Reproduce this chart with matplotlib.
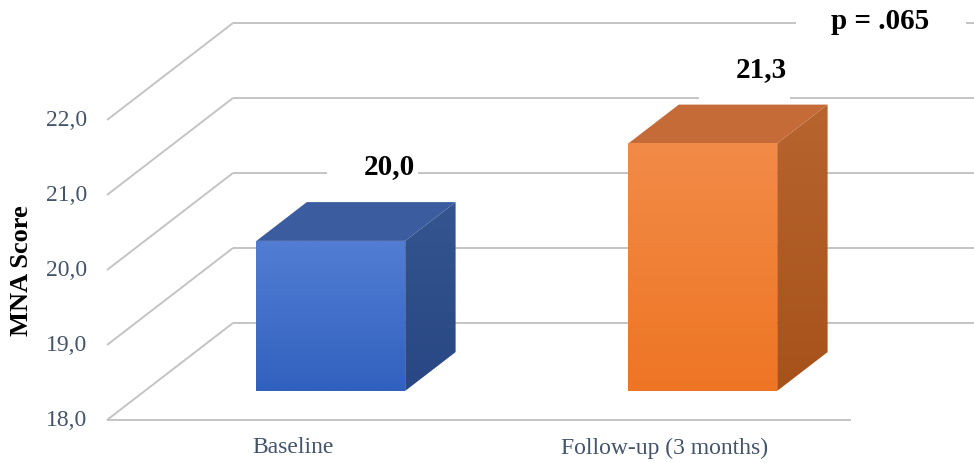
import numpy as np
import matplotlib
matplotlib.use('Agg')
import matplotlib.pyplot as plt
import matplotlib.colors as mcolors
from matplotlib.patches import Polygon, Rectangle

# ---- data ----
categories = ["Baseline", "Follow-up (3 months)"]
values = [20.0, 21.3]
value_labels = ["20,0", "21,3"]
y_ticks = [18.0, 19.0, 20.0, 21.0, 22.0]
y_tick_labels = ["18,0", "19,0", "20,0", "21,0", "22,0"]
p_label = "p = .065"
axis_title = "MNA Score"

# ---- styles ----
FONT = "Liberation Serif"
TXT_COL = "#44546A"
GRID_COL = "#C4C4C4"
front_cols = [("#527DD3", "#3161BF"), ("#F28B47", "#EE7524")]
top_cols = ["#3B5C9E", "#C56B37"]
side_cols = [("#34558F", "#284784"), ("#B8642F", "#A7521A")]

W, H = 974, 464
fig = plt.figure(figsize=(W / 100, H / 100), dpi=100)
ax = fig.add_axes([0, 0, 1, 1])
XL = (-293 / 372, (974 - 293) / 372)
YL = (18 - (464 - 421) / 75, 18 + 421 / 75)

ymin = y_ticks[0]
DX, DY = 0.3387, 1.2933      # full depth offset (data units)
f0, f1 = 0.3, 0.7            # bar depth fractions
bw = 0.4
x_left, x_right = -0.5, len(categories) - 0.5

# back wall gridlines
for t in y_ticks:
    ax.plot([x_left + DX, x_right + DX + 0.05], [t + DY, t + DY],
            color=GRID_COL, lw=1.4, zorder=1, solid_capstyle='butt')
    # left wall diagonals
    ax.plot([x_left, x_left + DX], [t, t + DY], color=GRID_COL, lw=1.4,
            zorder=1, solid_capstyle='butt')
# floor front edge
ax.plot([x_left, x_right], [ymin, ymin], color=GRID_COL, lw=1.4, zorder=1,
        solid_capstyle='butt')


def grad_poly(verts, c_top, c_bot, zorder):
    poly = Polygon(verts, closed=True, facecolor='none', edgecolor='none',
                   zorder=zorder)
    ax.add_patch(poly)
    xs = [p[0] for p in verts]
    ys = [p[1] for p in verts]
    n = 64
    c1 = np.array(mcolors.to_rgb(c_top))
    c2 = np.array(mcolors.to_rgb(c_bot))
    t = np.linspace(0, 1, n)[:, None]
    img = (c1 * (1 - t) + c2 * t)[:, None, :]
    im = ax.imshow(img, extent=(min(xs), max(xs), min(ys), max(ys)),
                   origin='upper', aspect='auto', zorder=zorder,
                   interpolation='bilinear')
    im.set_clip_path(poly)


# label white boxes + labels
lx, ly = 0.26, 1.39
for i, (v, lab) in enumerate(zip(values, value_labels)):
    cx, cy = i + lx, v + ly
    ax.add_patch(Rectangle((cx - 0.169, cy - 0.507), 0.169 + 0.075, 0.507 + 0.42,
                           facecolor='white', edgecolor='none', zorder=2))
    ax.text(cx, cy, lab, ha='center', va='center', fontsize=21,
            fontweight='bold', family=FONT, color='black', zorder=6)

# bars
for i, v in enumerate(values):
    x0 = i + f0 * DX - bw / 2
    x1 = x0 + bw
    yb = ymin + f0 * DY
    yt = v + f0 * DY
    ddx = (f1 - f0) * DX
    ddy = (f1 - f0) * DY
    # side face
    side = [(x1, yb), (x1 + ddx, yb + ddy), (x1 + ddx, yt + ddy), (x1, yt)]
    grad_poly(side, side_cols[i][0], side_cols[i][1], 3)
    # top face
    top = [(x0, yt), (x1, yt), (x1 + ddx, yt + ddy), (x0 + ddx, yt + ddy)]
    ax.add_patch(Polygon(top, closed=True, facecolor=top_cols[i],
                         edgecolor='none', zorder=3))
    # front face
    front = [(x0, yb), (x1, yb), (x1, yt), (x0, yt)]
    grad_poly(front, front_cols[i][0], front_cols[i][1], 4)

# p label
px, py = 1.578, 23.32
ax.add_patch(Rectangle((px - 0.226, py - 0.27), 0.226 + 0.231, 0.54,
                       facecolor='white', edgecolor='none', zorder=2))
ax.text(px, py, p_label, ha='center', va='center', fontsize=21,
        fontweight='bold', family=FONT, color='black', zorder=6)

# tick labels
for t, lab in zip(y_ticks, y_tick_labels):
    ax.text(x_left - 0.054, t, lab, ha='right', va='center', fontsize=17,
            family=FONT, color=TXT_COL)

# category labels
for i, c in enumerate(categories):
    ax.text(i, ymin - 0.36, c, ha='center', va='center', fontsize=17,
            family=FONT, color=TXT_COL)

# axis title
ax.text(-0.7285, 20.0, axis_title, rotation=90, ha='center', va='center',
        fontsize=19, fontweight='bold', family=FONT, color='black')

ax.set_xlim(*XL)
ax.set_ylim(*YL)
ax.axis('off')
fig.savefig("out.png", dpi=100)
